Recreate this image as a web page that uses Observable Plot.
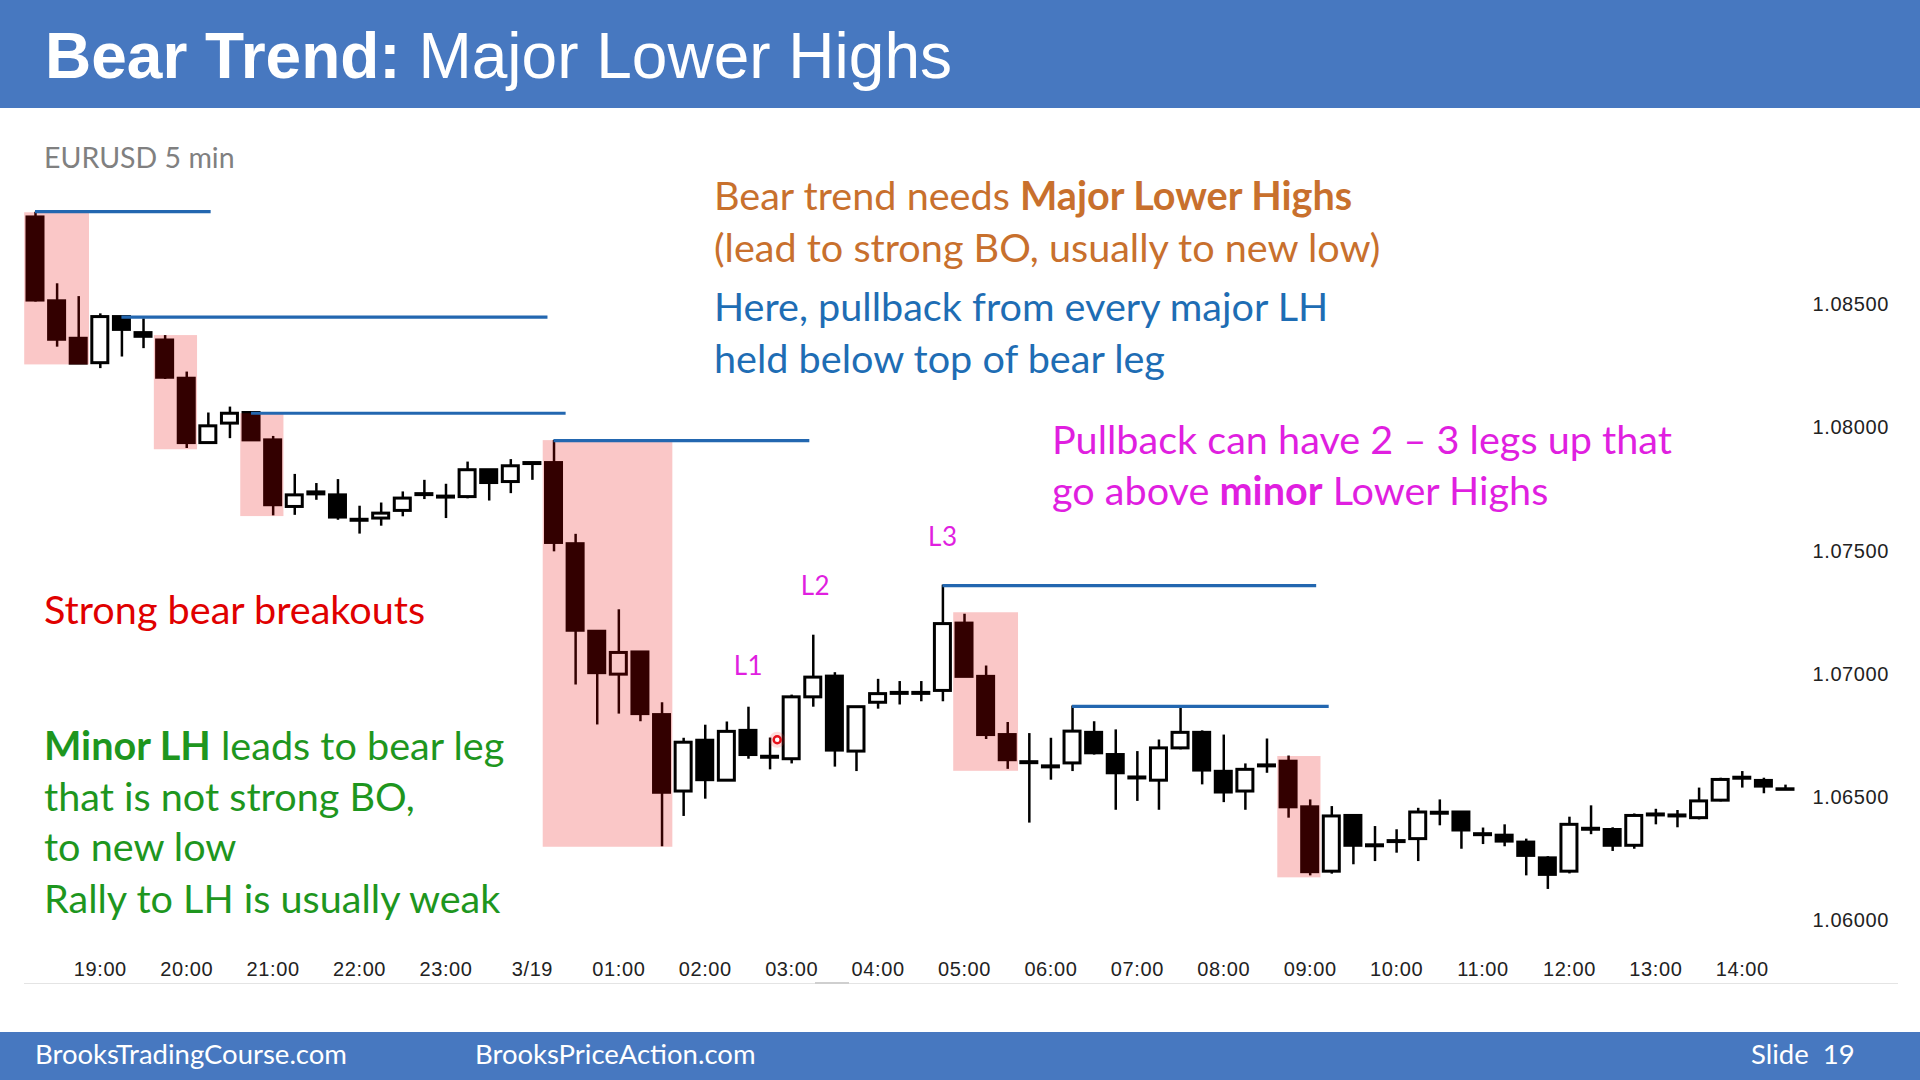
<!DOCTYPE html>
<html><head><meta charset="utf-8">
<script src="https://cdn.jsdelivr.net/npm/d3@7"></script>
<script src="https://cdn.jsdelivr.net/npm/@observablehq/plot@0.6"></script>
<style>
html,body{margin:0;padding:0;background:#fff;}
#page{position:relative;width:1920px;height:1080px;overflow:hidden;background:#fff;}
.band{position:absolute;left:0;width:1920px;background:#4778c0;}
.t{position:absolute;white-space:nowrap;line-height:1;font-family:Lato,"Open Sans",sans-serif;}
#chart{position:absolute;left:0;top:108px;}
#title{position:absolute;left:45px;top:24px;font-family:"Liberation Sans",Arial,sans-serif;font-size:64px;line-height:1;color:#fff;white-space:nowrap;}
.orange{color:#c8702d;font-size:39.6px;}
.blue{color:#1e6db4;font-size:39.6px;}
.mag{color:#e01fe0;font-size:39.6px;}
.red{color:#e00000;font-size:39.6px;}
.green{color:#1e961e;font-size:39.6px;}
.foot{color:#fff;font-size:27.5px;}
</style></head>
<body><div id="page">
<div class="band" style="top:0;height:108px;"></div>
<div id="title"><b>Bear Trend:</b> Major Lower Highs</div>
<div id="chart"></div>
<div class="t" style="left:44px;top:143px;font-size:28.5px;color:#808080;">EURUSD 5 min</div>
<div class="t orange" style="left:714px;top:175px;">Bear trend needs <b>Major Lower Highs</b></div>
<div class="t orange" style="left:714px;top:227px;">(lead to strong BO, usually to new low)</div>
<div class="t blue" style="left:714px;top:286px;">Here, pullback from every major LH</div>
<div class="t blue" style="left:714px;top:338px;">held below top of bear leg</div>
<div class="t mag" style="left:1052px;top:419px;">Pullback can have 2 – 3 legs up that</div>
<div class="t mag" style="left:1052px;top:470px;">go above <b>minor</b> Lower Highs</div>
<div class="t red" style="left:44px;top:589px;">Strong bear breakouts</div>
<div class="t green" style="left:44px;top:725px;"><b>Minor LH</b> leads to bear leg</div>
<div class="t green" style="left:44px;top:776px;">that is not strong BO,</div>
<div class="t green" style="left:44px;top:826px;">to new low</div>
<div class="t green" style="left:44px;top:878px;">Rally to LH is usually weak</div>
<div style="position:absolute;left:24px;top:983px;width:1874px;height:1px;background:#e4e4e4;"></div>
<div style="position:absolute;left:815px;top:982px;width:34px;height:2px;background:#cfcfcf;"></div>
<div class="band" style="top:1032px;height:48px;"></div>
<div class="t foot" style="left:35px;top:1040px;">BrooksTradingCourse.com</div>
<div class="t foot" style="left:475px;top:1040px;">BrooksPriceAction.com</div>
<div class="t foot" style="left:1751px;top:1040px;">Slide&nbsp; 19</div>
</div>
<script>
// ---- data (EURUSD) ----
const times = ["18:15","18:30","18:45","19:00","19:15","19:30","19:45","20:00","20:15","20:30","20:45","21:00","21:15","21:30","21:45","22:00","22:15","22:30","22:45","23:00","23:15","23:30","23:45","00:00","00:15","00:30","00:45","01:00","01:15","01:30","01:45","02:00","02:15","02:30","02:45","03:00","03:15","03:30","03:45","04:00","04:15","04:30","04:45","05:00","05:15","05:30","05:45","06:00","06:15","06:30","06:45","07:00","07:15","07:30","07:45","08:00","08:15","08:30","08:45","09:00","09:15","09:30","09:45","10:00","10:15","10:30","10:45","11:00","11:15","11:30","11:45","12:00","12:15","12:30","12:45","13:00","13:15","13:30","13:45","14:00","14:15","14:30"];
const dateLabel = "3/19";
const open  = [1.08853,1.08513,1.08361,1.08262,1.08449,1.08384,1.08354,1.08199,1.07938,1.08017,1.08060,1.07949,1.07679,1.07738,1.07726,1.07627,1.07632,1.07663,1.07731,1.07721,1.07719,1.07828,1.07780,1.07853,1.07857,1.07528,1.07173,1.06999,1.07089,1.06835,1.06525,1.06731,1.06569,1.06771,1.06666,1.06656,1.06907,1.06991,1.06687,1.06885,1.06925,1.06921,1.06933,1.07206,1.06990,1.06754,1.06644,1.06627,1.06639,1.06763,1.06673,1.06582,1.06569,1.06700,1.06763,1.06605,1.06525,1.06631,1.06646,1.06461,1.06200,1.06426,1.06307,1.06324,1.06332,1.06435,1.06440,1.06352,1.06346,1.06318,1.06254,1.06200,1.06374,1.06369,1.06305,1.06428,1.06424,1.06417,1.06488,1.06577,1.06568,1.06534];
const high  = [1.08874,1.08584,1.08532,1.08462,1.08450,1.08442,1.08374,1.08226,1.08060,1.08084,1.08060,1.07965,1.07811,1.07774,1.07790,1.07682,1.07695,1.07740,1.07787,1.07771,1.07861,1.07830,1.07871,1.07857,1.07949,1.07568,1.07173,1.07262,1.07089,1.06885,1.06741,1.06794,1.06807,1.06867,1.06742,1.06916,1.07159,1.07007,1.06867,1.06980,1.06971,1.06971,1.07362,1.07244,1.07034,1.06805,1.06760,1.06741,1.06872,1.06808,1.06775,1.06687,1.06734,1.06869,1.06771,1.06754,1.06637,1.06738,1.06669,1.06491,1.06464,1.06426,1.06383,1.06370,1.06457,1.06491,1.06440,1.06377,1.06390,1.06332,1.06261,1.06421,1.06467,1.06378,1.06434,1.06453,1.06448,1.06539,1.06579,1.06606,1.06579,1.06551];
const low   = [1.08510,1.08327,1.08260,1.08240,1.08287,1.08321,1.08196,1.07916,1.07938,1.07956,1.07949,1.07643,1.07645,1.07706,1.07625,1.07569,1.07601,1.07639,1.07709,1.07632,1.07712,1.07703,1.07733,1.07787,1.07497,1.06957,1.06795,1.06839,1.06808,1.06301,1.06424,1.06494,1.06569,1.06656,1.06613,1.06637,1.06867,1.06624,1.06606,1.06859,1.06876,1.06889,1.06889,1.06990,1.06736,1.06615,1.06397,1.06571,1.06606,1.06673,1.06449,1.06485,1.06449,1.06694,1.06552,1.06480,1.06449,1.06599,1.06417,1.06183,1.06190,1.06228,1.06241,1.06275,1.06241,1.06386,1.06291,1.06310,1.06301,1.06183,1.06128,1.06191,1.06350,1.06282,1.06291,1.06390,1.06378,1.06410,1.06483,1.06539,1.06516,1.06534];
const close = [1.08516,1.08357,1.08260,1.08449,1.08397,1.08369,1.08203,1.07938,1.08006,1.08057,1.07949,1.07686,1.07726,1.07730,1.07636,1.07623,1.07652,1.07713,1.07727,1.07717,1.07828,1.07776,1.07844,1.07857,1.07533,1.07177,1.07005,1.07087,1.06839,1.06520,1.06723,1.06571,1.06767,1.06673,1.06662,1.06907,1.06987,1.06691,1.06867,1.06920,1.06921,1.06925,1.07204,1.06990,1.06754,1.06652,1.06640,1.06623,1.06768,1.06680,1.06599,1.06578,1.06700,1.06763,1.06610,1.06521,1.06613,1.06627,1.06461,1.06198,1.06424,1.06305,1.06303,1.06320,1.06440,1.06439,1.06367,1.06348,1.06322,1.06264,1.06187,1.06390,1.06370,1.06305,1.06426,1.06432,1.06428,1.06485,1.06572,1.06581,1.06545,1.06532];

// strong bear breakout zones (first bar, last bar, top, bottom)
const zoneFirst  = [0, 6, 10, 24, 43, 58];
const zoneLast   = [2, 7, 11, 29, 45, 59];
const zoneTop    = [1.08872, 1.08374, 1.08057, 1.07948, 1.07250, 1.06667];
const zoneBottom = [1.08255, 1.07911, 1.07640, 1.06299, 1.06607, 1.06175];

// lower-high lines (from bar, to bar, price)
const lhFrom  = [0, 4, 10, 24, 42, 48];
const lhTo    = [8.13, 23.72, 24.56, 35.84, 59.3, 59.88];
const lhPrice = [1.08877, 1.08449, 1.08059, 1.07948, 1.07360, 1.06870];

// leg labels
const legNames = ["L1", "L2", "L3"];
const legBar   = [33, 36.1, 42];
const legPrice = [1.07032, 1.07354, 1.07553];

// cursor mark
const markBar = [34.33];
const markPrice = [1.06735];

const priceTicks = [1.06, 1.065, 1.07, 1.075, 1.08, 1.085];

// ---- build ----
const bars = times.map((t, i) => ({i, t, o: open[i], h: high[i], l: low[i], c: close[i]}));
const zones = zoneFirst.map((f, k) => ({x1: f - 0.5, x2: zoneLast[k] + 0.5, y1: zoneBottom[k], y2: zoneTop[k]}));
const lhs = lhFrom.map((f, k) => ({x1: f, x2: lhTo[k], y: lhPrice[k]}));
const legs = legNames.map((n, k) => ({n, x: legBar[k], y: legPrice[k]}));
const marks = markBar.map((x, k) => ({x, y: markPrice[k]}));
const hourIdx = bars.filter(b => b.t.endsWith(":00")).map(b => b.i);

const chart = Plot.plot({
  width: 1920, height: 924,
  marginLeft: 35, marginRight: 135, marginTop: 196, marginBottom: 111.5,
  x: {type: "linear", domain: [0, 81]},
  y: {type: "linear", domain: [1.06, 1.085]},
  style: {background: "transparent", fontFamily: "'Liberation Sans', Arial, sans-serif", fontSize: "20px", color: "#222", letterSpacing: "0.6px", overflow: "visible"},
  marks: [
    Plot.ruleX(bars, {x: "i", y1: "l", y2: "h", stroke: "#000", strokeWidth: 2.5}),
    Plot.rect(bars, {x1: d => d.i - 0.5, x2: d => d.i + 0.5, y1: "o", y2: "c", insetLeft: 2.8, insetRight: 2.8,
      fill: d => d.c > d.o ? "#ffffff" : "#000000", stroke: "#000", strokeWidth: 3}),
    Plot.rect(zones, {x1: "x1", x2: "x2", y1: "y1", y2: "y2", fill: "rgb(230,0,0)", fillOpacity: 0.22}),
    Plot.ruleY(lhs, {x1: "x1", x2: "x2", y: "y", stroke: "#2367b0", strokeWidth: 3.2}),
    Plot.text(legs, {x: "x", y: "y", text: "n", fill: "#e01fe0", fontSize: 26, fontFamily: "Lato, 'Open Sans', sans-serif"}),
    Plot.dot(marks, {x: "x", y: "y", r: 8, fill: "rgb(255,60,60)", fillOpacity: 0.18, stroke: "none"}),
    Plot.dot(marks, {x: "x", y: "y", r: 3.5, fill: "#ffffff", stroke: "#e8101a", strokeWidth: 2.5}),
    Plot.axisX({ticks: hourIdx, tickFormat: i => times[i] === "00:00" ? dateLabel : times[i], tickSize: 0, tickPadding: 41, fill: "#222"}),
    Plot.axisY({anchor: "right", ticks: priceTicks, tickFormat: d3.format(".5f"), tickSize: 0, tickPadding: 27, fill: "#222"})
  ]
});
document.getElementById("chart").appendChild(chart);
</script>
</body></html>
